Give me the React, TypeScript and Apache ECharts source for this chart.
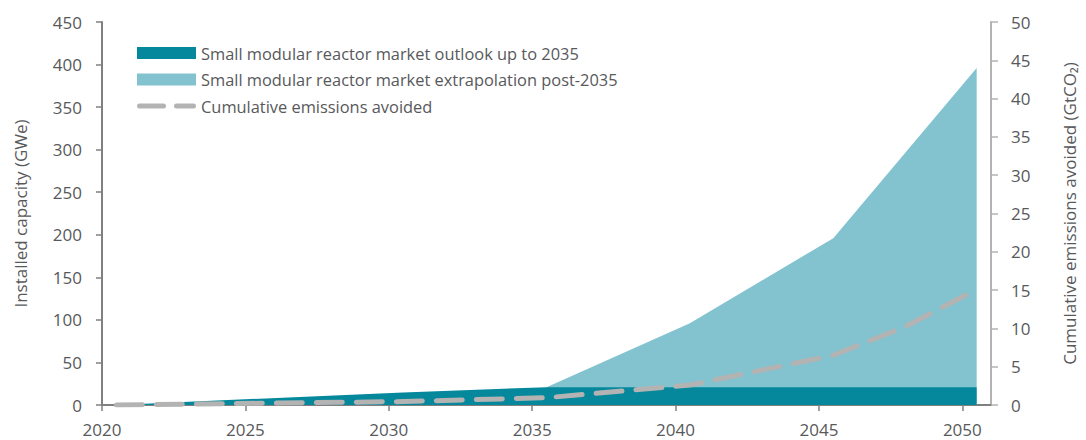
import React, { useEffect, useRef } from "react";
import * as echarts from "echarts";

const yearTicks = [2020, 2025, 2030, 2035, 2040, 2045, 2050];
const outlookYears = [2020.5, 2025.5, 2030.5, 2035.5, 2040.5, 2045.5, 2050.5];
const outlookValues = [0, 7.4, 14.7, 21, 21, 21, 21];
const extrapYears = [2035.5, 2040.5, 2045.5, 2050.5];
const extrapValues = [21, 96, 196, 396];
const emissionYears = [2020.5, 2025.5, 2030.5, 2035.5, 2040.5, 2045.5, 2048, 2050.5];
const emissionValues = [0, 0.22, 0.45, 0.95, 2.6, 6.5, 10.2, 15.1];

const seriesNames = [
  "Small modular reactor market outlook up to 2035",
  "Small modular reactor market extrapolation post-2035",
  "Cumulative emissions avoided",
];

const DARK = "#05889c";
const LIGHT = "#82c3cf";
const GREY_LINE = "#b3b3b3";
const TEXT = "#58595b";
const FONT = "'Open Sans', sans-serif";
const DASH_ICON =
  "path://M2.5,0 H26.5 A2.5,2.5 0 0 1 26.5,5 H2.5 A2.5,2.5 0 0 1 2.5,0 Z M39.5,0 H56.5 A2.5,2.5 0 0 1 56.5,5 H39.5 A2.5,2.5 0 0 1 39.5,0 Z";

export default function App() {
  const ref = useRef<HTMLDivElement>(null);
  useEffect(() => {
    if (!ref.current) return;
    const chart = echarts.init(ref.current, null, { renderer: "svg" });
    const zip = (xs: number[], ys: number[]) => xs.map((x, i) => [x, ys[i]]);
    chart.setOption({
      animation: false,
      textStyle: { fontFamily: FONT },
      grid: { left: 102, right: 93, top: 22, bottom: 35 },
      legend: {
        orient: "vertical",
        left: 132,
        top: 40,
        itemWidth: 59,
        itemHeight: 12,
        itemGap: 10.5,
        itemTextGap: 8,
        textStyle: { fontFamily: FONT, fontSize: 16.4, color: TEXT },
        data: [
          { name: seriesNames[0], icon: "rect" },
          { name: seriesNames[1], icon: "rect" },
          { name: seriesNames[2], icon: DASH_ICON },
        ],
      },
      xAxis: {
        type: "value",
        min: 2020,
        max: 2051,
        interval: 5,
        axisLine: { lineStyle: { color: "#808080", width: 2 } },
        axisTick: {
          show: true,
          length: 6,
          customValues: yearTicks,
          lineStyle: { color: "#808080", width: 1.5 },
        },
        axisLabel: {
          customValues: yearTicks,
          margin: 16,
          fontSize: 17,
          color: TEXT,
          fontFamily: FONT,
          formatter: (v: number) => String(v),
        },
        splitLine: { show: false },
      },
      yAxis: [
        {
          type: "value",
          min: 0,
          max: 450,
          interval: 50,
          name: "Installed capacity (GWe)",
          nameLocation: "middle",
          nameGap: 73,
          nameTextStyle: { fontSize: 17, color: TEXT, fontFamily: FONT },
          axisLine: { show: true, lineStyle: { color: "#808080", width: 2 } },
          axisTick: { show: true, length: 6, lineStyle: { color: "#808080", width: 1.5 } },
          axisLabel: { margin: 20, fontSize: 17, color: TEXT, fontFamily: FONT },
          splitLine: { show: false },
        },
        {
          type: "value",
          min: 0,
          max: 50,
          interval: 5,
          position: "right",
          name: "Cumulative emissions avoided (GtCO₂)",
          nameLocation: "middle",
          nameGap: 70,
          nameTextStyle: { fontSize: 17, color: TEXT, fontFamily: FONT },
          axisLine: { show: true, lineStyle: { color: GREY_LINE, width: 2 } },
          axisTick: { show: true, length: 7, lineStyle: { color: GREY_LINE, width: 1.5 } },
          axisLabel: { margin: 20, fontSize: 17, color: TEXT, fontFamily: FONT },
          splitLine: { show: false },
        },
      ],
      series: [
        {
          name: seriesNames[0],
          type: "line",
          data: zip(outlookYears, outlookValues),
          symbol: "none",
          color: DARK,
          lineStyle: { width: 0 },
          areaStyle: { color: DARK, opacity: 1 },
          z: 3,
        },
        {
          name: seriesNames[1],
          type: "line",
          data: zip(extrapYears, extrapValues),
          symbol: "none",
          color: LIGHT,
          lineStyle: { width: 0 },
          areaStyle: { color: LIGHT, opacity: 1 },
          z: 2,
        },
        {
          name: seriesNames[2],
          type: "line",
          yAxisIndex: 1,
          data: zip(emissionYears, emissionValues),
          symbol: "none",
          color: GREY_LINE,
          lineStyle: { color: GREY_LINE, width: 5, type: [26, 14], cap: "round", join: "round" },
          z: 4,
        },
      ],
    });
    return () => chart.dispose();
  }, []);
  return <div ref={ref} style={{ width: 1086, height: 440, position: "absolute", left: 0, top: 0 }} />;
}
